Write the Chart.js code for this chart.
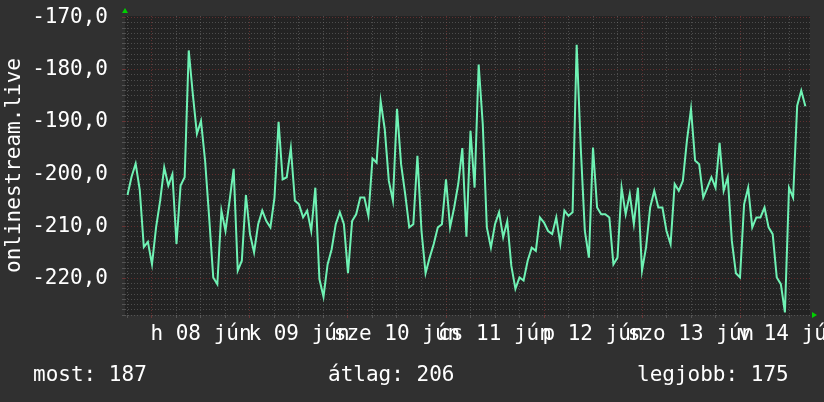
<!DOCTYPE html>
<html>
<head>
<meta charset="utf-8">
<script src="https://cdn.jsdelivr.net/npm/chart.js@4/dist/chart.umd.min.js"></script>
<style>
  html, body { margin: 0; padding: 0; background: #303030; }
  #wrap { width: 824px; height: 402px; }
</style>
</head>
<body>
<div id="wrap"><canvas id="myChart" width="824" height="402"></canvas></div>
<script>
// hourly rank, first point is 6 hours before Mon 08 Jun 00:00
const START_HOUR = -6;
const rank = [
  -204, -200.5, -198, -203, -214, -213, -217.3, -210.2, -205.1, -198.7,
  -202.2, -200, -213.4, -202.2, -200.6, -176.3, -184.7, -192.3, -189.8, -197.4,
  -208.3, -219.8, -221.1, -207, -210.9, -205.1, -199, -218.5, -216.6, -204,
  -211.5, -215, -209.6, -207, -209, -210.2, -204.5, -190, -201, -200.6,
  -195, -205.1, -205.8, -208.3, -207, -210.9, -202.6, -220.1, -223.5, -217.3,
  -214.4, -209.6, -207.3, -209.6, -219, -209, -207.7, -204.5, -204.5, -208,
  -197, -197.8, -186, -191.4, -201.3, -205.1, -187.5, -198.1, -203.8, -210.2,
  -209.6, -196.5, -210.9, -219, -216, -213.4, -210.2, -209.6, -201, -210.2,
  -206.4, -201.9, -195, -212, -191.7, -202.6, -179, -190.4, -210.2, -214.1,
  -209.6, -207.3, -212.1, -209, -217.6, -222, -219.8, -220.4, -216.6, -214.1,
  -214.7, -208.3, -209.3, -210.9, -211.5, -208.3, -213.4, -207, -208, -207.3,
  -175.2, -194.9, -210.9, -216, -194.9, -206.4, -207.7, -207.7, -208.3, -217.3,
  -216, -202.6, -207.7, -203.8, -209.6, -202.6, -218.5, -214, -206.4, -203.2,
  -206.4, -206.4, -210.9, -213.4, -201.9, -203.2, -201.3, -193.6, -187.5, -197.4,
  -198.1, -204.5, -202.6, -200.6, -202.6, -194, -203.2, -200.6, -212.8, -219,
  -219.8, -205.8, -202.6, -210.2, -208.3, -208.3, -206.4, -210.2, -211.5, -219.8,
  -221.1, -226.5, -202.6, -204.5, -186.9, -184, -187
];

// day labels sit at noon of each day
const dayLabels = ['h 08 jún', 'k 09 jún', 'sze 10 jún', 'cs 11 jún', 'p 12 jún', 'szo 13 jún', 'v 14 jún'];
const yLabels = [-170, -180, -190, -200, -210, -220];
const summary = ['most: 187', 'átlag: 206', 'legjobb: 175'];

const mono = { family: 'DejaVu Sans Mono', size: 21 };
const RED = 'rgba(160,60,60,0.5)';
const GRAY = 'rgba(120,120,120,0.5)';

const xGrid = [];
for (let h = -6; h <= 160; h += 6) xGrid.push(h);
const yGrid = [];
for (let v = -227; v <= -170; v++) yGrid.push(v);

const points = rank.map((v, i) => ({ x: START_HOUR + i, y: v }));

const frame = {
  id: 'frame',
  beforeDraw(chart) {
    const { ctx, chartArea: a } = chart;
    ctx.save();
    ctx.fillStyle = '#303030';
    ctx.fillRect(0, 0, chart.width, chart.height);
    ctx.fillStyle = '#232323';
    ctx.fillRect(a.left, a.top, a.right - a.left, a.bottom - a.top);
    ctx.restore();
  },
  afterDraw(chart) {
    const { ctx, chartArea: a } = chart;
    ctx.save();
    ctx.fillStyle = '#00d000';
    ctx.beginPath();
    ctx.moveTo(a.left - 3, a.top - 3);
    ctx.lineTo(a.left + 3, a.top - 3);
    ctx.lineTo(a.left, a.top - 8);
    ctx.fill();
    ctx.beginPath();
    ctx.moveTo(a.right + 2, a.bottom - 3);
    ctx.lineTo(a.right + 2, a.bottom + 3);
    ctx.lineTo(a.right + 7, a.bottom);
    ctx.fill();
    ctx.fillStyle = '#ffffff';
    ctx.font = '21px "DejaVu Sans Mono"';
    ctx.textBaseline = 'alphabetic';
    ctx.fillText(summary[0], 33, 381);
    ctx.fillText(summary[1], 328, 381);
    ctx.fillText(summary[2], 637, 381);
    ctx.restore();
  }
};

new Chart(document.getElementById('myChart').getContext('2d'), {
  type: 'line',
  data: {
    datasets: [{
      data: points,
      borderColor: '#6ff2b4',
      borderWidth: 2,
      pointRadius: 0,
      tension: 0,
      fill: false
    }]
  },
  options: {
    responsive: false,
    animation: false,
    layout: { padding: { top: 16, right: 14, bottom: 57, left: 0 } },
    plugins: { legend: { display: false }, tooltip: { enabled: false } },
    scales: {
      x: {
        type: 'linear',
        min: -6.61,
        max: 161.14,
        afterBuildTicks: s => { s.ticks = xGrid.map(v => ({ value: v })); },
        afterFit: s => { s.height = 30; s.paddingLeft = 0; s.paddingRight = 0; },
        ticks: {
          autoSkip: false,
          maxRotation: 0,
          color: '#ffffff',
          font: mono,
          padding: 4,
          callback: v => ((v - 12) % 24 === 0 ? dayLabels[(v - 12) / 24] : '')
        },
        grid: { color: c => (c.tick && c.tick.value % 24 === 0 ? RED : GRAY), tickLength: 3 },
        border: { display: false, dash: [1, 2] }
      },
      y: {
        min: -227,
        max: -169.7,
        afterBuildTicks: s => { s.ticks = yGrid.map(v => ({ value: v })); },
        afterFit: s => { s.width = 125; s.paddingTop = 0; s.paddingBottom = 0; },
        ticks: {
          autoSkip: false,
          color: '#ffffff',
          font: mono,
          padding: 14,
          callback: v => (yLabels.includes(v) ? v.toFixed(1).replace('.', ',') : '')
        },
        grid: { color: c => (c.tick && yLabels.includes(c.tick.value) ? RED : GRAY), tickLength: 3 },
        border: { display: false, dash: [1, 2] },
        title: {
          display: true,
          text: 'onlinestream.live',
          color: '#ffffff',
          font: mono,
          padding: { top: 2, bottom: 0 }
        }
      }
    }
  },
  plugins: [frame]
});
</script>
</body>
</html>
